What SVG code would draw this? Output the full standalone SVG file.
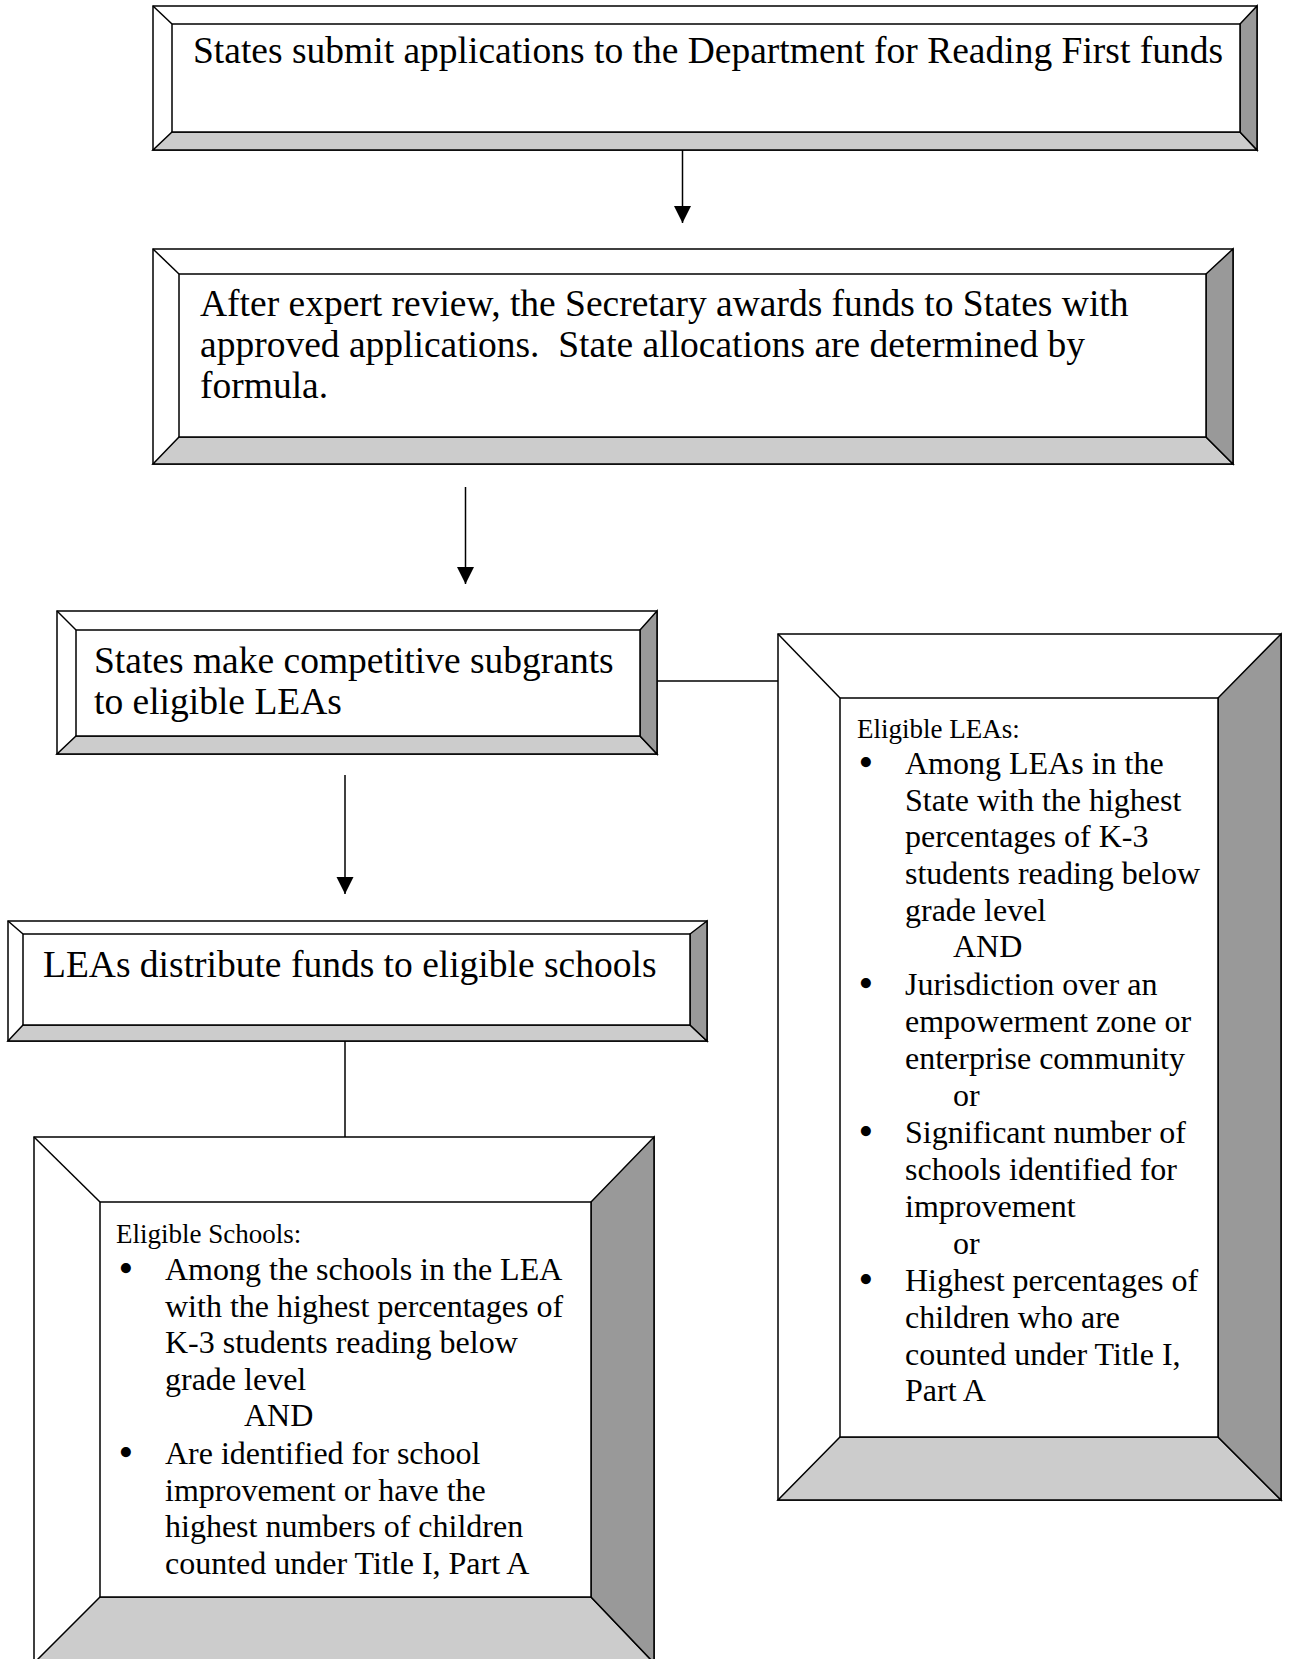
<svg xmlns="http://www.w3.org/2000/svg" width="1290" height="1659" viewBox="0 0 1290 1659">
<style>
  .ol{fill:#fff;stroke:#000;stroke-width:1.5}
  .bt{fill:#cccccc;stroke:#000;stroke-width:1.5;stroke-linejoin:miter}
  .rt{fill:#999999;stroke:#000;stroke-width:1.5;stroke-linejoin:miter}
  .dg{stroke:#000;stroke-width:1.5;fill:none}
  .in{fill:#fff;stroke:#000;stroke-width:1.5}
  .t{font-family:"Liberation Serif","Times New Roman",serif;fill:#000}
  .big{font-size:37.5px}
  .sm{font-size:32px}
  .hd{font-size:27px}
  .bu{font-size:42px}
  .cn{stroke:#000;stroke-width:1.5;fill:none}
</style>
<defs>
  <marker id="ah" viewBox="0 0 10 10" refX="10" refY="5" markerWidth="17" markerHeight="20" markerUnits="userSpaceOnUse" orient="auto">
    <path d="M0,0 L10,5 L0,10 z" fill="#000"/>
  </marker>
</defs>

<g id="connectors">
  <line class="cn" x1="682.5" y1="150" x2="682.5" y2="223" marker-end="url(#ah)"/>
  <line class="cn" x1="465.5" y1="487" x2="465.5" y2="584" marker-end="url(#ah)"/>
  <line class="cn" x1="345" y1="775" x2="345" y2="894" marker-end="url(#ah)"/>
  <line class="cn" x1="657" y1="681" x2="778" y2="681"/>
  <line class="cn" x1="345" y1="1041" x2="345" y2="1137"/>
</g>

<g id="box1">
  <rect class="ol" x="153" y="6" width="1104" height="144"/>
  <polygon class="bt" points="153,150 1257,150 1240,132 172,132"/>
  <polygon class="rt" points="1257,6 1257,150 1240,132 1240,24"/>
  <line class="dg" x1="153" y1="6" x2="172" y2="24"/>
  <rect class="in" x="172" y="24" width="1068" height="108"/>
  <text class="t big" x="193" y="63">States submit applications to the Department for Reading First funds</text>
</g>

<g id="box2">
  <rect class="ol" x="153" y="249" width="1080" height="215"/>
  <polygon class="bt" points="153,464 1233,464 1206,437 179,437"/>
  <polygon class="rt" points="1233,249 1233,464 1206,437 1206,274"/>
  <line class="dg" x1="153" y1="249" x2="179" y2="274"/>
  <rect class="in" x="179" y="274" width="1027" height="163"/>
  <text class="t big" x="200" y="316">After expert review, the Secretary awards funds to States with</text>
  <text class="t big" x="200" y="357" xml:space="preserve">approved applications.  State allocations are determined by</text>
  <text class="t big" x="200" y="398">formula.</text>
</g>

<g id="box3">
  <rect class="ol" x="57" y="611" width="600" height="143"/>
  <polygon class="bt" points="57,754 657,754 640,736 76,736"/>
  <polygon class="rt" points="657,611 657,754 640,736 640,630"/>
  <line class="dg" x1="57" y1="611" x2="76" y2="630"/>
  <rect class="in" x="76" y="630" width="564" height="106"/>
  <text class="t big" x="94" y="673">States make competitive subgrants</text>
  <text class="t big" x="94" y="714">to eligible LEAs</text>
</g>

<g id="box4">
  <rect class="ol" x="778" y="634" width="503" height="866"/>
  <polygon class="bt" points="778,1500 1281,1500 1218,1437 840,1437"/>
  <polygon class="rt" points="1281,634 1281,1500 1218,1437 1218,698"/>
  <line class="dg" x1="778" y1="634" x2="840" y2="698"/>
  <rect class="in" x="840" y="698" width="378" height="739"/>
  <g class="t sm">
    <text class="hd" x="857" y="737.5">Eligible LEAs:</text>
    <text class="bu" x="858.5" y="775.5">•</text>
    <text x="905" y="774">Among LEAs in the</text>
    <text x="905" y="810.5">State with the highest</text>
    <text x="905" y="847">percentages of K-3</text>
    <text x="905" y="884">students reading below</text>
    <text x="905" y="920.5">grade level</text>
    <text x="953" y="957">AND</text>
    <text class="bu" x="858.5" y="996.5">•</text>
    <text x="905" y="995">Jurisdiction over an</text>
    <text x="905" y="1032">empowerment zone or</text>
    <text x="905" y="1069">enterprise community</text>
    <text x="953" y="1105.5">or</text>
    <text class="bu" x="858.5" y="1144.5">•</text>
    <text x="905" y="1143">Significant number of</text>
    <text x="905" y="1180">schools identified for</text>
    <text x="905" y="1216.5">improvement</text>
    <text x="953" y="1253.5">or</text>
    <text class="bu" x="858.5" y="1292.5">•</text>
    <text x="905" y="1291">Highest percentages of</text>
    <text x="905" y="1328">children who are</text>
    <text x="905" y="1364.5">counted under Title I,</text>
    <text x="905" y="1401">Part A</text>
  </g>
</g>

<g id="box5">
  <rect class="ol" x="8" y="921" width="699" height="120"/>
  <polygon class="bt" points="8,1041 707,1041 690,1025 23,1025"/>
  <polygon class="rt" points="707,921 707,1041 690,1025 690,934"/>
  <line class="dg" x1="8" y1="921" x2="23" y2="934"/>
  <rect class="in" x="23" y="934" width="667" height="91"/>
  <text class="t big" x="43" y="977">LEAs distribute funds to eligible schools</text>
</g>

<g id="box6">
  <rect class="ol" x="34" y="1137" width="620" height="526"/>
  <polygon class="bt" points="34,1663 654,1663 591,1597 100,1597"/>
  <polygon class="rt" points="654,1137 654,1663 591,1597 591,1202"/>
  <line class="dg" x1="34" y1="1137" x2="100" y2="1202"/>
  <rect class="in" x="100" y="1202" width="491" height="395"/>
  <g class="t sm">
    <text class="hd" x="116" y="1243">Eligible Schools:</text>
    <text class="bu" x="118.5" y="1281.5">•</text>
    <text x="165" y="1280">Among the schools in the LEA</text>
    <text x="165" y="1316.5">with the highest percentages of</text>
    <text x="165" y="1353">K-3 students reading below</text>
    <text x="165" y="1389.5">grade level</text>
    <text x="244" y="1426">AND</text>
    <text class="bu" x="118.5" y="1465.5">•</text>
    <text x="165" y="1464">Are identified for school</text>
    <text x="165" y="1500.5">improvement or have the</text>
    <text x="165" y="1537">highest numbers of children</text>
    <text x="165" y="1573.5">counted under Title I, Part A</text>
  </g>
</g>
</svg>
